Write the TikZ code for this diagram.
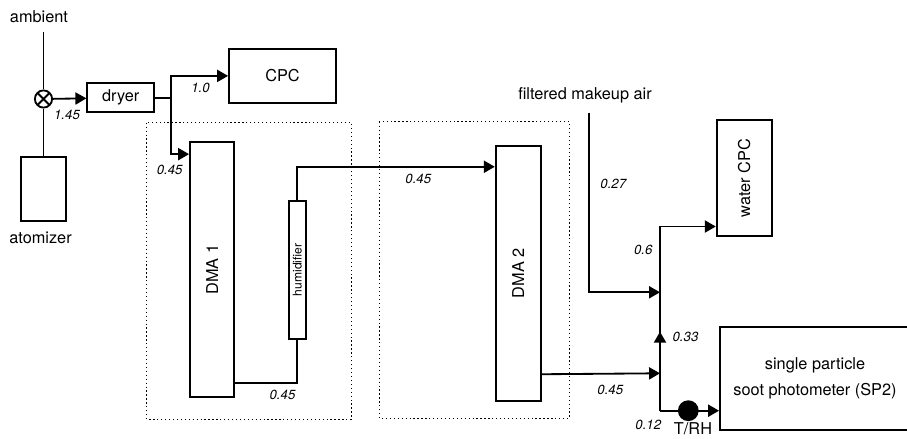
\documentclass[tikz,border=0pt]{standalone}
\usepackage{fontspec}
\setmainfont{TeX Gyre Heros}
\usepackage{graphicx}
\usetikzlibrary{arrows.meta,calc}
\tikzset{
  pipe/.style ={draw,line width=1.3pt},
  flow/.style ={pipe,-{Triangle[length=7.8pt,width=8.6pt]}},
  box/.style  ={draw,line width=1.3pt,inner sep=0pt,font=\fontsize{11.6pt}{14pt}\selectfont},
  grp/.style  ={draw,line width=0.7pt,dash pattern=on 0.9pt off 1.9pt},
  txt/.style  ={inner sep=0pt,font=\fontsize{11.6pt}{14pt}\selectfont},
  lbl/.style  ={inner sep=0pt,font=\fontsize{9.4pt}{11pt}\selectfont\itshape},
  mix/.style  ={circle,draw,line width=1.3pt,minimum size=0.43cm,inner sep=0pt,
                path picture={\draw[line width=1.3pt]
                  (path picture bounding box.south west) -- (path picture bounding box.north east)
                  (path picture bounding box.north west) -- (path picture bounding box.south east);}},
  sens/.style ={circle,fill,minimum size=0.52cm,inner sep=0pt},
}

\begin{document}
\begin{tikzpicture}[x=0.025cm,y=-0.025cm]
\useasboundingbox (0,0) rectangle (907,439);
\draw[grp] (146.7,122.7) rectangle (351.3,419.3);
\draw[grp] (379.3,121.7) rectangle (569.3,418.3);

\node[box,minimum width=1.125cm,minimum height=1.59cm] (atom) at (43.2,188.9) {};
\node[box,minimum width=1.67cm,minimum height=0.725cm] (dryer) at (120.7,97.8) {dryer};
\node[box,minimum width=2.675cm,minimum height=1.34cm] (cpc) at (282.5,75.9) {CPC};
\node[box,minimum width=1.11cm,minimum height=6.375cm] (dma1) at (212.2,269.8) {\rotatebox{90}{DMA 1}};
\node[box,minimum width=0.42cm,minimum height=3.46cm,font=\fontsize{8.6pt}{10pt}\selectfont] (humid) at (297.4,269.9) {\rotatebox{90}{humidifier}};
\node[box,minimum width=1.125cm,minimum height=6.375cm] (dma2) at (518.2,273.2) {\rotatebox{90}{DMA 2}};
\node[box,minimum width=1.375cm,minimum height=2.9cm] (wcpc) at (744.2,178) {\rotatebox{90}{water CPC}};
\node[box,minimum width=4.75cm,minimum height=2.575cm,align=center,font=\fontsize{11.6pt}{18.4pt}\selectfont] (sp2) at (815,378.5) {single particle\\soot photometer (SP2)};

\node[txt] (amb) at (39,16.7) {ambient};
\node[txt] (atomtxt) at (40.5,238.3) {atomizer};
\node[txt] (mkair) at (585,95) {filtered makeup air};
\node[txt] (trhtxt) at (693,429) {T/RH};
\node[mix] (mixer) at (43.5,99) {};

\coordinate (ambin) at (43.5,32);
\coordinate (mkin) at (589,112.7);
\coordinate (sp) at (171,98);
\coordinate (top) at (660,225.7);
\coordinate (j1) at (660,292.3);
\coordinate (j2) at (660,373.3);
\coordinate (up) at (660,331.7);
\coordinate (bot) at (660,410.7);

\draw[pipe] (ambin) -- (mixer);
\draw[pipe] (mixer) -- (mixer |- atom.north);
\draw[flow] (mixer) -- (dryer);
\draw[pipe] (dryer) -- (sp);
\draw[flow] (sp) |- (cpc);
\draw[flow] (sp) |- ([yshift=-0.32cm]dma1.north west);
\draw[pipe] ([yshift=0.375cm]dma1.south east) -| (humid);
\draw[flow] (humid) |- ([yshift=-0.55cm]dma2.north west);
\draw[flow] ([yshift=0.685cm]dma2.south east) -- (j2);
\draw[flow] (mkin) |- (j1);
\draw[flow] (bot) |- ([yshift=0.26cm]wcpc.south west);
\draw[flow] (j2) -- (up);
\draw[flow] (bot) -- (sp2.west |- bot);
\node[sens] (trh) at (688.3,410.7) {};

\node[lbl] (q145) at (67,114.7) {1.45};
\node[lbl] (q10) at (200.5,88.3) {1.0};
\node[lbl] (q45a) at (169.7,170) {0.45};
\node[lbl] (q45b) at (282.5,395) {0.45};
\node[lbl] (q45c) at (418.3,179) {0.45};
\node[lbl] (q27) at (613.3,184) {0.27};
\node[lbl] (q6) at (643.2,250) {0.6};
\node[lbl] (q33) at (685.5,337.3) {0.33};
\node[lbl] (q45d) at (610.3,390) {0.45};
\node[lbl] (q12) at (648.3,425) {0.12};
\end{tikzpicture}
\end{document}
